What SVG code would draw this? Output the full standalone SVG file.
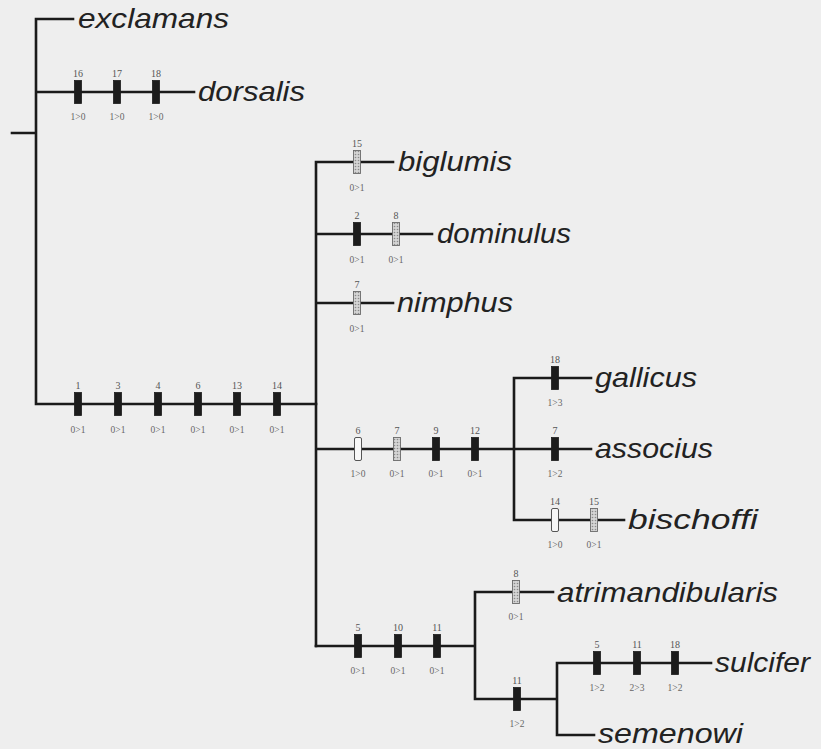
<svg xmlns="http://www.w3.org/2000/svg" width="821" height="749" viewBox="0 0 821 749">
<defs>
<pattern id="dots" width="3" height="3" patternUnits="userSpaceOnUse">
<rect width="3" height="3" fill="#d4d4d4"/>
<circle cx="1.5" cy="1.5" r="0.8" fill="#8a8a8a"/>
</pattern>
<style>
.ln{stroke:#1a1a1a;stroke-width:2.6;fill:none;stroke-linecap:square}
.b{fill:#1c1c1c;stroke:#1c1c1c;stroke-width:0.8}
.g{fill:url(#dots);stroke:#6a6a6a;stroke-width:0.9}
.w{fill:#f8f8f8;stroke:#555;stroke-width:1}
.tx{font-family:"Liberation Sans",Arial,sans-serif;font-style:italic;font-size:28px;fill:#222}
.n{font-family:"Liberation Serif","Times New Roman",serif;font-size:10px;fill:#555;text-anchor:middle}
.s{font-family:"Liberation Serif","Times New Roman",serif;font-size:9.5px;fill:#666;text-anchor:middle}
</style>
</defs>
<rect width="821" height="749" fill="#eeeeee"/>
<g id="connectors">
<path class="ln" d="M12,133H36M36,19V404M36,19H73M36,92H194M36,404H316"/>
<path class="ln" d="M316,162V646M316,162H393M316,234H432M316,303H393M316,449H591"/>
<path class="ln" d="M514,378V520M514,378H591M514,520H624"/>
<path class="ln" d="M316,646H475M475,592V699M475,592H553M475,699H557M557,663V735M557,663H711M557,735H594"/>
</g>
<g id="exclamans"><text class="tx" x="78" y="28" textLength="151" lengthAdjust="spacingAndGlyphs">exclamans</text></g>
<g id="dorsalis">
<rect class="b" x="74.5" y="80.5" width="7" height="23"/><rect class="b" x="113.5" y="80.5" width="7" height="23"/><rect class="b" x="152.5" y="80.5" width="7" height="23"/>
<text class="n" x="78" y="77">16</text><text class="n" x="117" y="77">17</text><text class="n" x="156" y="77">18</text>
<text class="s" x="78" y="120">1&gt;0</text><text class="s" x="117" y="120">1&gt;0</text><text class="s" x="156" y="120">1&gt;0</text>
<text class="tx" x="198" y="101" textLength="107" lengthAdjust="spacingAndGlyphs">dorsalis</text>
</g>
<g id="main-branch">
<rect class="b" x="74.5" y="392.5" width="7" height="23"/><rect class="b" x="114.5" y="392.5" width="7" height="23"/><rect class="b" x="154.5" y="392.5" width="7" height="23"/><rect class="b" x="194.5" y="392.5" width="7" height="23"/><rect class="b" x="233.5" y="392.5" width="7" height="23"/><rect class="b" x="273.5" y="392.5" width="7" height="23"/>
<text class="n" x="78" y="389">1</text><text class="n" x="118" y="389">3</text><text class="n" x="158" y="389">4</text><text class="n" x="198" y="389">6</text><text class="n" x="237" y="389">13</text><text class="n" x="277" y="389">14</text>
<text class="s" x="78" y="433">0&gt;1</text><text class="s" x="118" y="433">0&gt;1</text><text class="s" x="158" y="433">0&gt;1</text><text class="s" x="198" y="433">0&gt;1</text><text class="s" x="237" y="433">0&gt;1</text><text class="s" x="277" y="433">0&gt;1</text>
</g>
<g id="biglumis">
<rect class="g" x="353.5" y="150.5" width="7" height="23"/>
<text class="n" x="357" y="147">15</text><text class="s" x="357" y="191">0&gt;1</text>
<text class="tx" x="398" y="171" textLength="114" lengthAdjust="spacingAndGlyphs">biglumis</text>
</g>
<g id="dominulus">
<rect class="b" x="353.5" y="222.5" width="7" height="23"/><rect class="g" x="392.5" y="222.5" width="7" height="23"/>
<text class="n" x="357" y="219">2</text><text class="n" x="396" y="219">8</text>
<text class="s" x="357" y="263">0&gt;1</text><text class="s" x="396" y="263">0&gt;1</text>
<text class="tx" x="437" y="243" textLength="134" lengthAdjust="spacingAndGlyphs">dominulus</text>
</g>
<g id="nimphus">
<rect class="g" x="353.5" y="291.5" width="7" height="23"/>
<text class="n" x="357" y="288">7</text><text class="s" x="357" y="332">0&gt;1</text>
<text class="tx" x="397" y="312" textLength="116" lengthAdjust="spacingAndGlyphs">nimphus</text>
</g>
<g id="branch-449">
<rect class="w" x="354.5" y="437.5" width="7" height="23" rx="1.5"/><rect class="g" x="393.5" y="437.5" width="7" height="23"/><rect class="b" x="432.5" y="437.5" width="7" height="23"/><rect class="b" x="471.5" y="437.5" width="7" height="23"/>
<text class="n" x="358" y="434">6</text><text class="n" x="397" y="434">7</text><text class="n" x="436" y="434">9</text><text class="n" x="475" y="434">12</text>
<text class="s" x="358" y="477">1&gt;0</text><text class="s" x="397" y="477">0&gt;1</text><text class="s" x="436" y="477">0&gt;1</text><text class="s" x="475" y="477">0&gt;1</text>
</g>
<g id="gallicus">
<rect class="b" x="551.5" y="366.5" width="7" height="23"/>
<text class="n" x="555" y="363">18</text><text class="s" x="555" y="406">1&gt;3</text>
<text class="tx" x="595" y="387" textLength="102" lengthAdjust="spacingAndGlyphs">gallicus</text>
</g>
<g id="associus">
<rect class="b" x="551.5" y="437.5" width="7" height="23"/>
<text class="n" x="555" y="434">7</text><text class="s" x="555" y="477">1&gt;2</text>
<text class="tx" x="595" y="458" textLength="118" lengthAdjust="spacingAndGlyphs">associus</text>
</g>
<g id="bischoffi">
<rect class="w" x="551.5" y="508.5" width="7" height="23" rx="1.5"/><rect class="g" x="590.5" y="508.5" width="7" height="23"/>
<text class="n" x="555" y="505">14</text><text class="n" x="594" y="505">15</text>
<text class="s" x="555" y="548">1&gt;0</text><text class="s" x="594" y="548">0&gt;1</text>
<text class="tx" x="628" y="529" textLength="130" lengthAdjust="spacingAndGlyphs">bischoffi</text>
</g>
<g id="bottom-branch">
<rect class="b" x="354.5" y="634.5" width="7" height="23"/><rect class="b" x="394.5" y="634.5" width="7" height="23"/><rect class="b" x="433.5" y="634.5" width="7" height="23"/>
<text class="n" x="358" y="631">5</text><text class="n" x="398" y="631">10</text><text class="n" x="437" y="631">11</text>
<text class="s" x="358" y="674">0&gt;1</text><text class="s" x="398" y="674">0&gt;1</text><text class="s" x="437" y="674">0&gt;1</text>
</g>
<g id="atrimandibularis">
<rect class="g" x="512.5" y="580.5" width="7" height="23"/>
<text class="n" x="516" y="577">8</text><text class="s" x="516" y="620">0&gt;1</text>
<text class="tx" x="557" y="602" textLength="221" lengthAdjust="spacingAndGlyphs">atrimandibularis</text>
</g>
<g id="lower-branch">
<rect class="b" x="513.5" y="687.5" width="7" height="23"/>
<text class="n" x="517" y="684">11</text><text class="s" x="517" y="727">1&gt;2</text>
</g>
<g id="sulcifer">
<rect class="b" x="593.5" y="651.5" width="7" height="23"/><rect class="b" x="633.5" y="651.5" width="7" height="23"/><rect class="b" x="671.5" y="651.5" width="7" height="23"/>
<text class="n" x="597" y="648">5</text><text class="n" x="637" y="648">11</text><text class="n" x="675" y="648">18</text>
<text class="s" x="597" y="691">1&gt;2</text><text class="s" x="637" y="691">2&gt;3</text><text class="s" x="675" y="691">1&gt;2</text>
<text class="tx" x="715" y="672" textLength="95" lengthAdjust="spacingAndGlyphs">sulcifer</text>
</g>
<g id="semenowi"><text class="tx" x="598" y="743" textLength="145" lengthAdjust="spacingAndGlyphs">semenowi</text></g>
</svg>
